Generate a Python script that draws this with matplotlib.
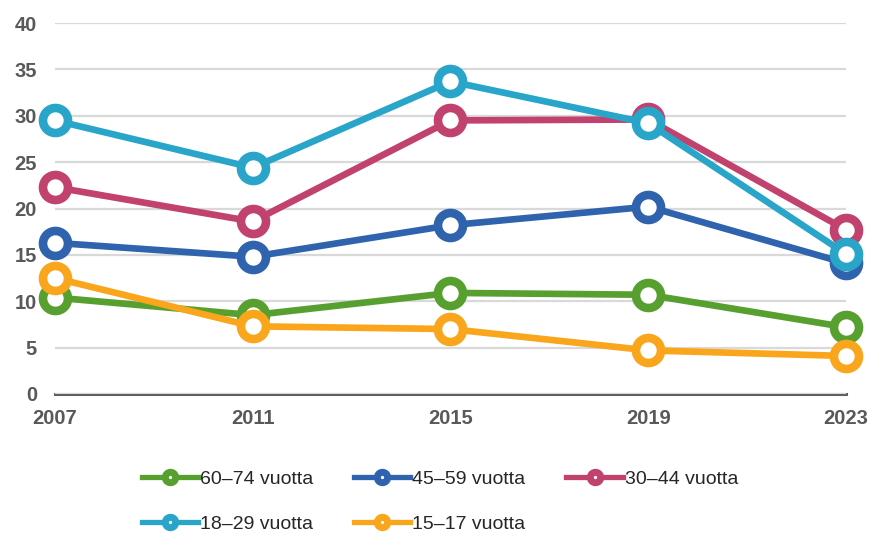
import numpy as np
import matplotlib.pyplot as plt
from matplotlib.lines import Line2D

plt.rcParams['font.family'] = ['Liberation Sans', 'DejaVu Sans']

years = [2007, 2011, 2015, 2019, 2023]
labels = ['60–74 vuotta', '45–59 vuotta', '30–44 vuotta', '18–29 vuotta', '15–17 vuotta']
age_60_74 = [10.4, 8.5, 10.9, 10.7, 7.2]
age_45_59 = [16.3, 14.8, 18.2, 20.2, 14.1]
age_30_44 = [22.3, 18.6, 29.5, 29.6, 17.7]
age_18_29 = [29.5, 24.4, 33.7, 29.2, 15.1]
age_15_17 = [12.5, 7.3, 7.0, 4.7, 4.1]
colors = ['#57a02f', '#2f63ad', '#c1416f', '#28a5c8', '#f9a61c']

series = [age_60_74, age_45_59, age_30_44, age_18_29, age_15_17]

fig = plt.figure(figsize=(8.69, 5.33), dpi=100)
ax = fig.add_axes([0.0633, 0.2608, 0.9102, 0.696])

for vals, col, lab in zip(series, colors, labels):
    ax.plot(years, vals, color=col, lw=4.8, marker='o', ms=18,
            mfc='white', mec=col, mew=6.2, clip_on=False, label=lab)

ax.set_xlim(2007, 2023)
ax.set_ylim(0, 40)
ax.set_yticks(range(0, 41, 5))
ax.set_xticks(years)
ax.grid(axis='y', color='#d9d9d9', lw=1.6)
ax.set_axisbelow(True)
for s in ['top', 'right', 'left']:
    ax.spines[s].set_visible(False)
ax.spines['bottom'].set_color('#5f5f5f')
ax.spines['bottom'].set_linewidth(2.2)
ax.spines['bottom'].set_zorder(0.5)
ax.tick_params(length=0, labelsize=14.5, labelcolor='#595959')
ax.tick_params(axis='y', pad=13)
ax.tick_params(axis='x', pad=11)
for t in ax.get_xticklabels() + ax.get_yticklabels():
    t.set_fontweight('bold')

# legend handles, reordered so that it reads row by row
handles = [Line2D([], [], color=c, lw=3.8, marker='o', ms=7.5, mfc='white',
                  mec=c, mew=5.0) for c in colors]
order = [0, 3, 1, 4, 2]
fig.legend([handles[i] for i in order], [labels[i] for i in order],
           loc='upper left', bbox_to_anchor=(0.163, 0.118), ncol=3,
           frameon=False, fontsize=14, handlelength=2.9, handletextpad=0.1,
           columnspacing=2.1, labelspacing=1.4, borderaxespad=0, borderpad=0,
           labelcolor='#262626')

fig.savefig('out.png', dpi=100)
